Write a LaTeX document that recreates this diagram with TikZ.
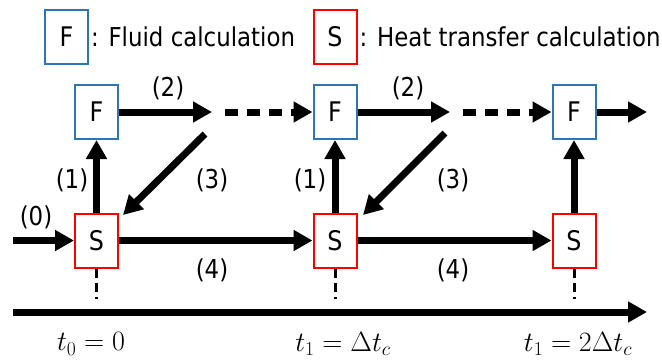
\RequirePackage{fix-cm}
\documentclass[tikz,border=0pt]{standalone}
\usepackage{fontspec}
\setmainfont{DejaVu Sans}[FakeStretch=0.88]
\usepackage{xcolor}
\usetikzlibrary{arrows.meta}
\definecolor{fluidblue}{HTML}{2E75B6}
\definecolor{heatred}{HTML}{FF0000}

\begin{document}
\begin{tikzpicture}[x=1pt,y=-1pt,
    calc/.style={fill=white,line width=2pt,minimum width=43pt,minimum height=54pt,
      inner sep=0pt,font=\fontsize{27}{30}\selectfont},
    fluid/.style={calc,draw=fluidblue},
    heat/.style={calc,draw=heatred},
    flow/.style={line width=7pt,-{Triangle[length=19pt,width=20pt]}},
    later/.style={flow,dash pattern=on 13pt off 9pt},
    tick/.style={line width=3pt,dash pattern=on 9pt off 5pt},
    lbl/.style={font=\fontsize{26}{30}\selectfont},
    tlbl/.style={font=\fontsize{28}{32}\selectfont}]
  \useasboundingbox (0,0) rectangle (662,360);
  % legend
  \node[fluid] (keyf) at (66.5,37) {F};
  \node[lbl,anchor=west,inner sep=2pt] at (keyf.east) {: Fluid calculation};
  \node[heat] (keys) at (335,37) {S};
  \node[lbl,anchor=west,inner sep=2pt] at (keys.east) {: Heat transfer calculation};
  % calculation boxes
  \node[fluid] (f0) at (96.5,112) {F};
  \node[heat] (s0) at (96.5,240.5) {S};
  \node[fluid] (f1) at (335,112) {F};
  \node[heat] (s1) at (335,240.5) {S};
  \node[fluid] (f2) at (574,112) {F};
  \node[heat] (s2) at (574,240.5) {S};
  % free ends
  \coordinate (in0) at (13,240.5);
  \coordinate (out0) at (212,112);
  \coordinate (dash0) at (225,112);
  \coordinate (back0) at (205,134);
  \coordinate (hit0) at (123,215);
  \coordinate (out1) at (450,112);
  \coordinate (dash1) at (463,112);
  \coordinate (back1) at (445,133);
  \coordinate (hit1) at (363,215);
  \coordinate (out2) at (647,112);
  \coordinate (ax0) at (13,312);
  \coordinate (ax1) at (647,312);
  % connectors
  \draw[flow] (in0) -- (s0);
  \draw[flow] (s0) -- (f0);
  \draw[flow] (f0) -- (out0);
  \draw[later] (dash0) -- (f1);
  \draw[flow] (back0) -- (hit0);
  \draw[flow] (s0) -- (s1);
  \draw[flow] (s1) -- (f1);
  \draw[flow] (f1) -- (out1);
  \draw[later] (dash1) -- (f2);
  \draw[flow] (back1) -- (hit1);
  \draw[flow] (s1) -- (s2);
  \draw[flow] (s2) -- (f2);
  \draw[flow] (f2) -- (out2);
  % labels
  \node[lbl] at (36,217) {(0)};
  \node[lbl] at (72,180) {(1)};
  \node[lbl] at (168,88) {(2)};
  \node[lbl] at (212,180) {(3)};
  \node[lbl] at (212,270) {(4)};
  \node[lbl] at (310,180) {(1)};
  \node[lbl] at (408,88) {(2)};
  \node[lbl] at (453,180) {(3)};
  \node[lbl] at (453,270) {(4)};
  % time axis
  \draw[flow] (ax0) -- (ax1);
  \draw[tick] (s0.south) -- (96.5,299);
  \draw[tick] (s1.south) -- (335,299);
  \draw[tick] (s2.south) -- (574,299);
  \node[tlbl] at (91,344) {$t_0 = 0$};
  \node[tlbl] at (343,344) {$t_1 = \Delta t_c$};
  \node[tlbl] at (578,344) {$t_1 = 2\Delta t_c$};
\end{tikzpicture}
\end{document}
